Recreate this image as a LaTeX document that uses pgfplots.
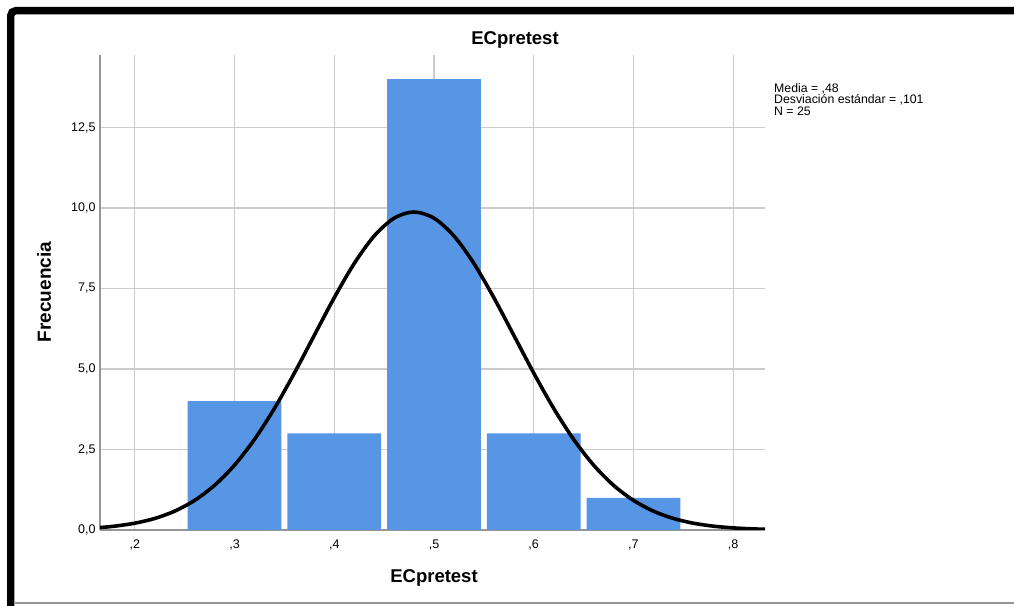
\documentclass[border=0pt]{standalone}
\usepackage{pgfplots}
\pgfplotsset{compat=1.18}
\usepackage{fontspec}
\setmainfont{Liberation Sans}
\definecolor{barblue}{RGB}{86,150,228}
\definecolor{gridgray}{RGB}{204,204,204}
\definecolor{axgray}{RGB}{150,150,150}
\begin{document}
\begin{tikzpicture}[x=1pt,y=1pt]
\useasboundingbox (0,0) rectangle (1014,605);
\fill[white] (0,0) rectangle (1014,605);
\begin{axis}[
  at={(100pt,75pt)}, anchor=south west,
  scale only axis, width=665pt, height=475pt,
  xmin=0.165, xmax=0.832, ymin=0, ymax=14.75,
  axis x line=bottom, axis y line=left,
  axis line style={draw=axgray, line width=1.3pt, -},
  xtick={0.2,0.3,0.4,0.5,0.6,0.7,0.8},
  xticklabels={{,2},{,3},{,4},{,5},{,6},{,7},{,8}},
  ytick={0,2.5,5,7.5,10,12.5},
  yticklabels={{0,0},{2,5},{5,0},{7,5},{10,0},{12,5}},
  major tick length=0pt,
  tick label style={font=\fontsize{12.5}{14}\selectfont},
  xticklabel style={yshift=-6pt},
  yticklabel style={xshift=-1pt},
  grid=major,
  major grid style={draw=gridgray, line width=1.2pt},
  clip=true,
]
\addplot[ybar, bar width=0.094, bar shift=0pt, fill=barblue, draw=none]
  coordinates {(0.3,4) (0.4,3) (0.5,14) (0.6,3) (0.7,1)};
\addplot[black, line width=3.6pt, smooth, no marks] coordinates {
(0.165,0.0763) (0.18,0.1198) (0.20,0.2116) (0.22,0.3593) (0.24,0.5867)
(0.26,0.9211) (0.28,1.3901) (0.30,2.0175) (0.32,2.8158) (0.34,3.7785)
(0.36,4.8755) (0.38,6.0490) (0.40,7.2165) (0.42,8.2771) (0.44,9.1303)
(0.46,9.6833) (0.48,9.875) (0.50,9.6833) (0.52,9.1303) (0.54,8.2771)
(0.56,7.2165) (0.58,6.0490) (0.60,4.8755) (0.62,3.7785) (0.64,2.8158)
(0.66,2.0175) (0.68,1.3901) (0.70,0.9211) (0.72,0.5867) (0.74,0.3593)
(0.76,0.2116) (0.78,0.1198) (0.80,0.0653) (0.82,0.0342) (0.832,0.0228)
};
\end{axis}
\node[font=\fontsize{18.5}{20}\selectfont\bfseries] at (515,565) {ECpretest};
\node[font=\fontsize{18.5}{20}\selectfont\bfseries] at (434,27) {ECpretest};
\node[font=\fontsize{19}{20}\selectfont\bfseries, rotate=90] at (44,313) {Frecuencia};
\node[anchor=north west, align=left, inner sep=0pt, font=\fontsize{12.3}{11.5}\selectfont] at (774,522)
  {Media = ,48\\Desviación estándar = ,101\\N = 25};
\draw[black, line width=7.4pt, rounded corners=5pt] (10.7,-10) -- (10.7,594.3) -- (1030,594.3);
\draw[axgray, line width=1.5pt] (14.5,2) -- (1014,2);
\end{tikzpicture}
\end{document}
